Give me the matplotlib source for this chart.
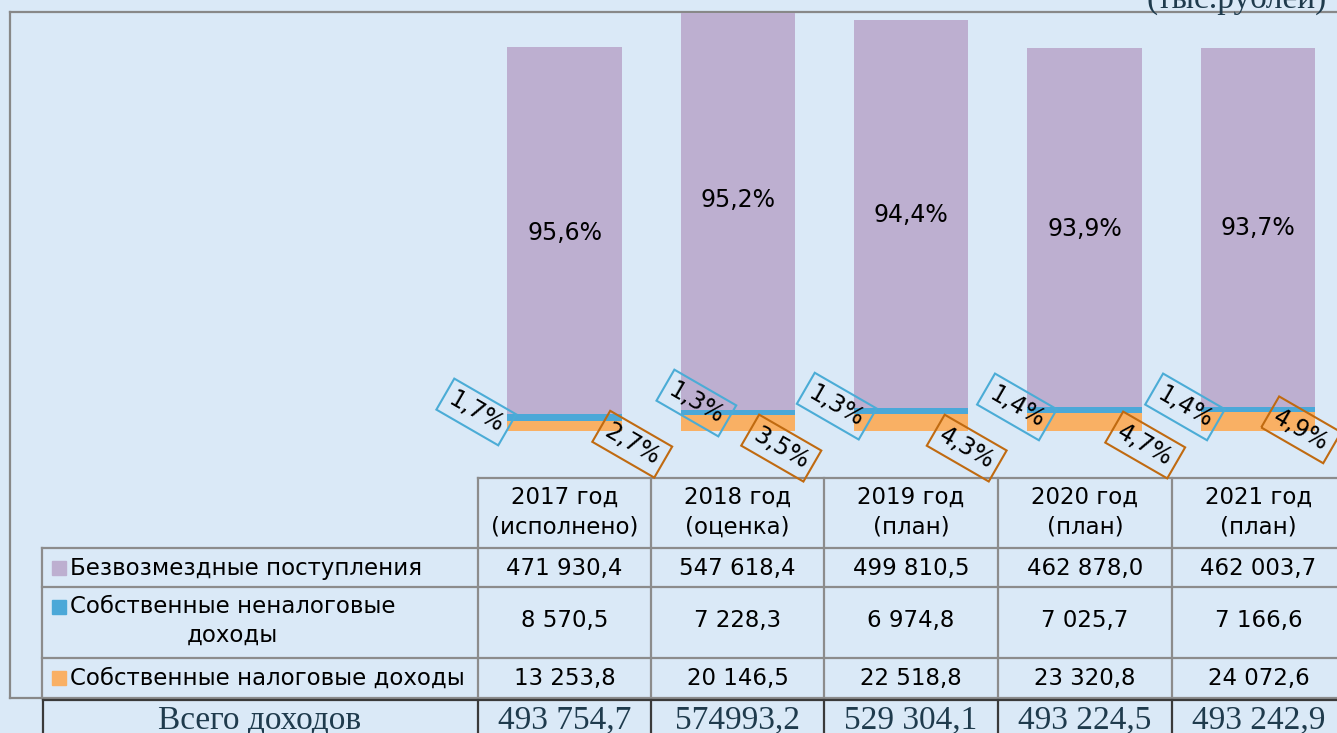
import matplotlib.pyplot as plt
from matplotlib.patches import Rectangle

# Данные (тыс. рублей)
years = ['2017 год\n(исполнено)', '2018 год\n(оценка)', '2019 год\n(план)',
         '2020 год\n(план)', '2021 год\n(план)']
series = ['Безвозмездные поступления', 'Собственные неналоговые\nдоходы',
          'Собственные налоговые доходы']
free = [471930.4, 547618.4, 499810.5, 462878.0, 462003.7]
nontax = [8570.5, 7228.3, 6974.8, 7025.7, 7166.6]
tax = [13253.8, 20146.5, 22518.8, 23320.8, 24072.6]
total_labels = ['493 754,7', '574993,2', '529 304,1', '493 224,5', '493 242,9']
pct_free = ['95,6%', '95,2%', '94,4%', '93,9%', '93,7%']
pct_nontax = ['1,7%', '1,3%', '1,3%', '1,4%', '1,4%']
pct_tax = ['2,7%', '3,5%', '4,3%', '4,7%', '4,9%']

# Цвета и оформление
bg = '#DAE9F7'
c_free, c_nontax, c_tax = '#BDAFD0', '#4BA8D8', '#F9B064'
grid_col = '#8C8C8C'
dark = '#1F3B4D'
sans = 'DejaVu Sans'
serif = 'Liberation Serif'

# позиции подписей процентов (в единицах оси)
free_y = [255000, 297000, 278000, 260000, 261000]
nontax_dx = [-0.51, -0.24, -0.43, -0.39, -0.42]
nontax_y = [24500, 36000, 32000, 31000, 31000]
tax_dx = [0.39, 0.25, 0.32, 0.35, 0.25]
tax_y = [-17000, -22000, -22000, -18000, 1500]

W, H = 1337, 733
fig = plt.figure(figsize=(W / 100, H / 100), dpi=100, facecolor=bg)

# Слой с таблицей и рамкой (пиксельные координаты)
tab = fig.add_axes([0, 0, 1, 1], zorder=0)
tab.set_xlim(0, W)
tab.set_ylim(H, 0)
tab.axis('off')

# Гистограмма
x0, x1 = 478, 478 + 5 * 173.3
ax = fig.add_axes([x0 / W, (H - 431) / H, (x1 - x0) / W, (431 - 13) / H], zorder=1)
ax.patch.set_alpha(0)
ax.set_xlim(-0.5, 4.5)
ax.set_ylim(0, 538000)
ax.axis('off')

pos = range(len(years))
bottom2 = [t + n for t, n in zip(tax, nontax)]
ax.bar(pos, tax, width=0.66, color=c_tax)
ax.bar(pos, nontax, width=0.66, bottom=tax, color=c_nontax)
ax.bar(pos, free, width=0.66, bottom=bottom2, color=c_free)

for i in pos:
    ax.text(i, free_y[i], pct_free[i], ha='center', va='center',
            fontsize=17, family=sans)
    ax.text(i + nontax_dx[i], nontax_y[i], pct_nontax[i], ha='center', va='center',
            fontsize=17, family=sans, rotation=-30, rotation_mode='anchor',
            bbox=dict(boxstyle='square,pad=0.25', fc='none', ec='#4BACD6', lw=1.5))
    ax.text(i + tax_dx[i], tax_y[i], pct_tax[i], ha='center', va='center',
            fontsize=17, family=sans, rotation=-30, rotation_mode='anchor',
            bbox=dict(boxstyle='square,pad=0.25', fc='none', ec='#C06A10', lw=1.5))

# Рамка диаграммы
tab.plot([10, W], [12, 12], color='#888888', lw=1.6)
tab.plot([10, 10], [12, 698], color='#888888', lw=1.6)
tab.plot([10, 42], [698, 698], color='#888888', lw=1.6)

# Подпись единиц (обрезана сверху, как в оригинале)
tab.text(1147, 8, '(тыс.рублей)', family=serif, fontsize=24, color=dark,
         ha='left', va='baseline')

# Таблица данных
edges = [478, 651, 824, 998, 1172, 1345]
rows = [548, 587, 658, 698]
lw_t = 1.6
tab.plot([edges[0], W], [478, 478], color=grid_col, lw=lw_t)
for e in edges:
    tab.plot([e, e], [478, 698], color=grid_col, lw=lw_t)
tab.plot([42, 42], [548, 698], color=grid_col, lw=lw_t)
for r in rows:
    tab.plot([42, W], [r, r], color=grid_col, lw=lw_t)

centers = [(edges[k] + edges[k + 1]) / 2 for k in range(5)]
for k in range(5):
    tab.text(centers[k], 512, years[k], ha='center', va='center',
             fontsize=16.5, family=sans, linespacing=1.4)

row_y = [568, 621, 678]
values = [free, nontax, tax]
colors = [c_free, c_nontax, c_tax]
key_y = [568, 607, 678]
for r in range(3):
    tab.add_patch(Rectangle((52, key_y[r] - 7), 14, 14, color=colors[r]))
    tab.text(70, row_y[r], series[r], ha='left', va='center', fontsize=16.5,
             family=sans, multialignment='center', linespacing=1.35)
    for k in range(5):
        s = f'{values[r][k]:,.1f}'.replace(',', ' ').replace('.', ',')
        tab.text(centers[k], row_y[r], s, ha='center', va='center',
                 fontsize=16.5, family=sans)

# Строка "Всего доходов"
tab.plot([43, W], [700, 700], color='#3A3A3A', lw=1.6)
for e in [43] + edges:
    tab.plot([e, e], [700, H], color='#3A3A3A', lw=1.6)
tab.text(260, 720, 'Всего доходов', ha='center', va='center', fontsize=24,
         family=serif, color=dark)
for k in range(5):
    tab.text(centers[k], 720, total_labels[k], ha='center', va='center',
             fontsize=24, family=serif, color=dark)

plt.savefig('out.png', dpi=100, facecolor=bg)
